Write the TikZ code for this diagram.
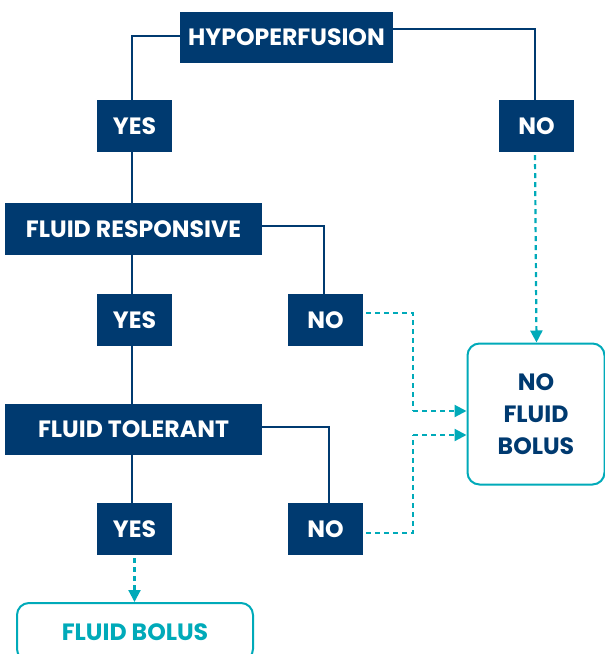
\documentclass[tikz,border=0pt]{standalone}
\usepackage{fontspec}
\setmainfont{Poppins}
\usetikzlibrary{arrows.meta,calc,backgrounds}
\definecolor{navy}{RGB}{0,58,112}
\definecolor{teal}{RGB}{0,170,185}
\begin{document}
\begin{tikzpicture}[x=1pt,y=-1pt,
  lbl/.style={font=\fontsize{23.6}{26}\selectfont\bfseries},
  box/.style={fill=navy,text=white,lbl,inner sep=0pt,minimum height=52pt},
  small/.style={box,minimum width=75pt},
  endbox/.style={draw=teal,line width=2pt,rounded corners=12pt,fill=white,inner sep=0pt,lbl},
  link/.style={draw=navy,line width=1.8pt},
  dlink/.style={draw=teal,line width=2.2pt,dash pattern=on 5pt off 4pt,-{Triangle[length=12pt,width=12pt]}},
  dline/.style={draw=teal,line width=2.2pt,dash pattern=on 5pt off 4pt}]
\useasboundingbox (0,0) rectangle (605,654);
\node[box,minimum width=213pt,minimum height=51pt] (hypo) at (286.5,37) {HYPOPERFUSION};
\node[small] (yes1) at (134.5,126) {YES};
\node[small] (no1) at (536.5,126) {NO};
\node[box,minimum width=257pt] (fr) at (133.5,229) {FLUID RESPONSIVE};
\node[small] (yes2) at (134.5,320) {YES};
\node[small] (no2) at (325.5,320) {NO};
\node[box,minimum width=257pt,minimum height=51pt] (ft) at (133.5,429.5) {FLUID TOLERANT};
\node[small] (yes3) at (134.5,529) {YES};
\node[small] (no3) at (325.5,529) {NO};
\node[endbox,text=teal,minimum width=236pt,minimum height=58pt] (fb) at (135,632) {FLUID BOLUS};
\node[endbox,text=navy,minimum width=137pt,minimum height=141pt,align=center,font=\fontsize{23.6}{32}\selectfont\bfseries] (nfb) at (536,414) {NO\\FLUID\\BOLUS};
\begin{scope}[on background layer]
% solid connectors
\draw[link] ([yshift=1pt]hypo.west) -| ([xshift=-2.5pt]yes1.north);
\draw[link] ([yshift=8pt]hypo.east) -| ([xshift=-1.5pt]no1.north);
\draw[link] ([xshift=-2.5pt]yes1.south) -- ([xshift=-2.5pt]yes2.north);
\draw[link] ([yshift=3pt]fr.east) -| ([xshift=-1.5pt]no2.north);
\draw[link] ([xshift=-2.5pt]yes2.south) -- ([xshift=-2.5pt]yes3.north);
\draw[link] ([yshift=2.5pt]ft.east) -| ([xshift=3.5pt]no3.north);
\end{scope}
% dashed connectors
\draw[dlink] ([yshift=-3pt]yes3.south) -- (fb.north -| yes3.south);
\draw[dlink] ([yshift=-3pt,xshift=-1.5pt]no1.south) -- (nfb.north -| no1.south);
\coordinate (k1) at (413,313);
\coordinate (k2) at (413,411);
\coordinate (k3) at (413,533);
\coordinate (k4) at (413,435);
\draw[dline] ([xshift=3pt]no2.east |- k1) -- (k1) -- (k2);
\draw[dlink] (k2) -- (nfb.west |- k2);
\draw[dline] ([xshift=3pt]no3.east |- k3) -- (k3) -- (k4);
\draw[dlink] (k4) -- (nfb.west |- k4);
\end{tikzpicture}
\end{document}
